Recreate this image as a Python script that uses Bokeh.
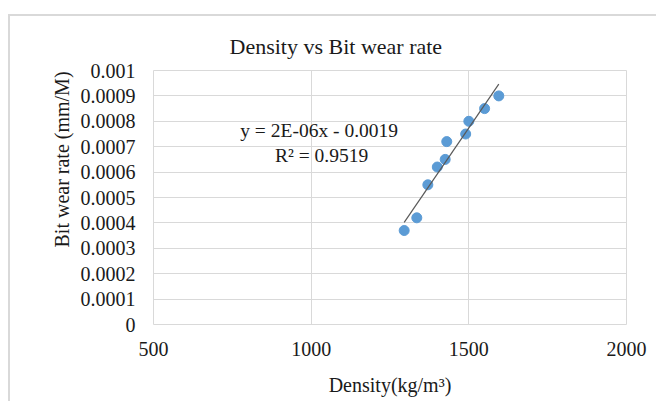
import numpy as np
from bokeh.plotting import figure
from bokeh.models import (FixedTicker, CustomJSTickFormatter, Label, Range1d,
                          ColumnDataSource, Title)
from bokeh.embed import file_html
from bokeh.resources import INLINE

# ---- data ----
density = [1295, 1335, 1370, 1400, 1425, 1430, 1490, 1500, 1550, 1595]
wear_rate = [0.00037, 0.00042, 0.00055, 0.00062, 0.00065, 0.00072, 0.00075, 0.00080, 0.00085, 0.00090]
x_ticks = [500, 1000, 1500, 2000]
y_ticks = [0, 0.0001, 0.0002, 0.0003, 0.0004, 0.0005, 0.0006, 0.0007, 0.0008, 0.0009, 0.001]
title_text = "Density vs Bit  wear rate"
x_label = "Density(kg/m³)"
y_label = "Bit wear rate (mm/M)"
eq_text = "y = 2E-06x  - 0.0019"
r2_text = "R² = 0.9519"

FONT = "Liberation Serif"
TXT = "#1a1a1a"
GRID = "#d9d9d9"

p = figure(width=656, height=401, output_backend="svg", toolbar_location=None,
           x_range=Range1d(500, 2000), y_range=Range1d(0, 0.001),
           min_border_left=153, min_border_right=30, min_border_top=70, min_border_bottom=77)
p.background_fill_color = "white"
p.border_fill_color = None
# outer chart-area frame (left and top edges visible in the reference)
p.styles = {
    "background": ("linear-gradient(#d9d9d9, #d9d9d9) 8px 14px / 2px 100% no-repeat, "
                   "linear-gradient(#d9d9d9, #d9d9d9) 8px 14px / 100% 2px no-repeat, white"),
}
p.outline_line_color = GRID
p.outline_line_width = 1

p.title.text = title_text
p.title.align = "left"
p.title.offset = 76
p.title.text_font = FONT
p.title.text_font_size = "22px"
p.title.text_font_style = "normal"
p.title.text_color = TXT
p.title.standoff = 23

for ax in (p.xaxis[0], p.yaxis[0]):
    ax.axis_line_color = None
    ax.major_tick_line_color = None
    ax.minor_tick_line_color = None
    ax.major_tick_out = 0
    ax.major_tick_in = 0
    ax.major_label_text_font = FONT
    ax.major_label_text_font_size = "20px"
    ax.major_label_text_color = TXT
    ax.axis_label_text_font = FONT
    ax.axis_label_text_font_size = "20px"
    ax.axis_label_text_font_style = "normal"
    ax.axis_label_text_color = TXT

p.xaxis[0].ticker = FixedTicker(ticks=x_ticks)
p.yaxis[0].ticker = FixedTicker(ticks=y_ticks)
p.yaxis[0].formatter = CustomJSTickFormatter(code="""
    if (Math.abs(tick) < 1e-12) return "0";
    return tick.toFixed(4).replace(/0+$/, "");
""")
p.xaxis[0].major_label_standoff = 17
p.yaxis[0].major_label_standoff = 18
p.xaxis[0].axis_label = x_label
p.xaxis[0].axis_label_standoff = 15

# y axis title, placed in the left panel (rotated)
ytitle = Title(text=y_label, align="left", offset=77, text_font=FONT,
               text_font_size="20px", text_font_style="normal", text_color=TXT,
               standoff=9)
p.add_layout(ytitle, "left")

p.xgrid.grid_line_color = GRID
p.ygrid.grid_line_color = GRID
p.xgrid.ticker = FixedTicker(ticks=x_ticks)
p.ygrid.ticker = FixedTicker(ticks=y_ticks)

src = ColumnDataSource(dict(x=density, y=wear_rate))
p.scatter("x", "y", source=src, size=10, fill_color="#5b9bd5", line_color="#5b9bd5")

# linear trendline (least squares fit of the data)
m, b = np.polyfit(density, wear_rate, 1)
xs = [min(density), max(density)]
p.line(xs, [m * v + b for v in xs], line_color="#595959", line_width=1.2)

p.add_layout(Label(x=1033, y=0.000765, text=eq_text, text_font=FONT,
                   text_font_size="19.5px", text_color=TXT, text_align="center",
                   text_baseline="middle"))
p.add_layout(Label(x=1033, y=0.000665, text=r2_text, text_font=FONT,
                   text_font_size="19.5px", text_color=TXT, text_align="center",
                   text_baseline="middle"))

open("out.html", "w").write(file_html(p, INLINE))
